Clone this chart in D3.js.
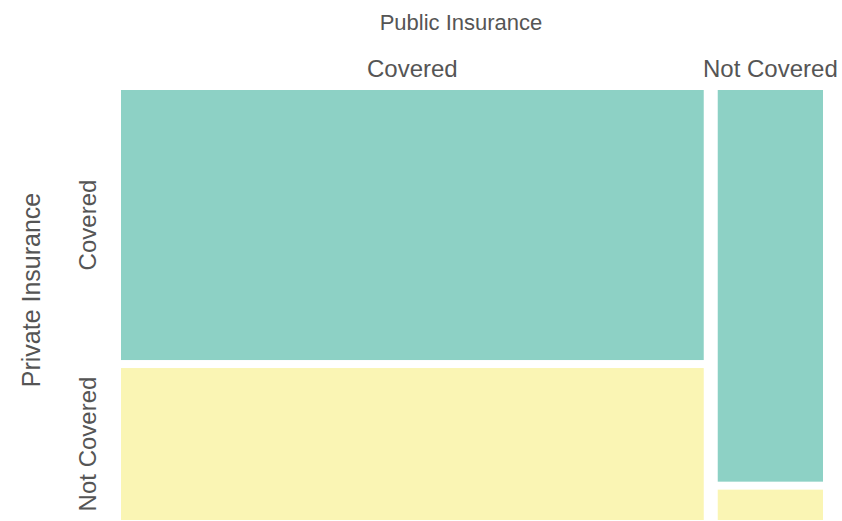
<!DOCTYPE html>
<html>
<head>
<meta charset="utf-8">
<script src="https://cdn.jsdelivr.net/npm/d3@7"></script>
<style>
  body { margin: 0; background: #fff; }
  text { font-family: "Liberation Sans", Arial, sans-serif; fill: #555; }
</style>
</head>
<body>
<script>
// categories
const publicCats = ["Covered", "Not Covered"];   // columns (x)
const privateCats = ["Covered", "Not Covered"];  // rows (y)
// counts per public column, split by private row
const coveredCol = [542, 305];
const notCoveredCol = [142, 11];
const counts = [coveredCol, notCoveredCol];

const colors = ["#8dd1c5", "#faf5b4"];

const W = 842, H = 521;
const m = { top: 90, right: 19, bottom: 1, left: 121 };
const gapX = 14, gapY = 8;
const pw = W - m.left - m.right;
const ph = H - m.top - m.bottom;

const svg = d3.select("body").append("svg")
  .attr("width", W)
  .attr("height", H);

const g = svg.append("g").attr("transform", "translate(" + m.left + "," + m.top + ")");

const colTotals = counts.map(c => d3.sum(c));
const total = d3.sum(colTotals);

// width share of each column
const xScale = d3.scaleLinear()
  .domain([0, total])
  .range([0, pw - gapX * (publicCats.length - 1)]);

let cells = [];
let cx = 0;
counts.forEach((col, i) => {
  const x = xScale(cx) + gapX * i;
  const w = xScale(colTotals[i]);
  const yScale = d3.scaleLinear()
    .domain([0, colTotals[i]])
    .range([0, ph - gapY * (privateCats.length - 1)]);
  let cy = 0;
  col.forEach((v, j) => {
    cells.push({ col: i, row: j, value: v,
      x: x, w: w, y: yScale(cy) + gapY * j, h: yScale(v) });
    cy += v;
  });
  cx += colTotals[i];
});

g.selectAll("rect")
  .data(cells)
  .enter()
  .append("rect")
  .attr("x", d => d.x)
  .attr("y", d => d.y)
  .attr("width", d => d.w)
  .attr("height", d => d.h)
  .attr("fill", d => colors[d.row])
  .append("title")
  .text(d => publicCats[d.col] + " / " + privateCats[d.row] + ": " + d.value);

// column labels
g.selectAll("text.col")
  .data(cells.filter(d => d.row === 0))
  .enter()
  .append("text")
  .attr("class", "col")
  .attr("x", d => d.x + d.w / 2)
  .attr("y", -13)
  .attr("text-anchor", "middle")
  .attr("font-size", 24)
  .text(d => publicCats[d.col]);

// row labels, taken from the first column
g.selectAll("text.row")
  .data(cells.filter(d => d.col === 0))
  .enter()
  .append("text")
  .attr("class", "row")
  .attr("transform", d => "translate(-25," + (d.y + d.h / 2) + ") rotate(-90)")
  .attr("text-anchor", "middle")
  .attr("font-size", 24)
  .text(d => privateCats[d.row]);

svg.append("text")
  .attr("x", 461)
  .attr("y", 30)
  .attr("text-anchor", "middle")
  .attr("font-size", 22)
  .text("Public Insurance");

svg.append("text")
  .attr("transform", "translate(40,290) rotate(-90)")
  .attr("text-anchor", "middle")
  .attr("font-size", 25)
  .text("Private Insurance");
</script>
</body>
</html>
